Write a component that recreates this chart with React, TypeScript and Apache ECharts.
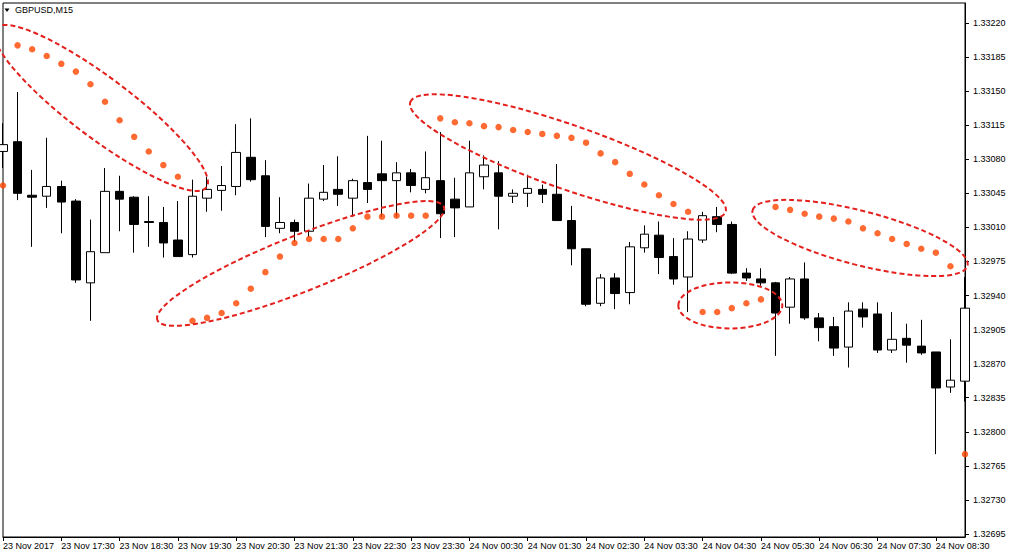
import React, { useEffect, useRef } from "react";
import * as echarts from "echarts";

const categories = [
  "23 Nov 16:30", "23 Nov 16:45", "23 Nov 17:00", "23 Nov 17:15", "23 Nov 17:30", "23 Nov 17:45",
  "23 Nov 18:00", "23 Nov 18:15", "23 Nov 18:30", "23 Nov 18:45", "23 Nov 19:00", "23 Nov 19:15",
  "23 Nov 19:30", "23 Nov 19:45", "23 Nov 20:00", "23 Nov 20:15", "23 Nov 20:30", "23 Nov 20:45",
  "23 Nov 21:00", "23 Nov 21:15", "23 Nov 21:30", "23 Nov 21:45", "23 Nov 22:00", "23 Nov 22:15",
  "23 Nov 22:30", "23 Nov 22:45", "23 Nov 23:00", "23 Nov 23:15", "23 Nov 23:30", "23 Nov 23:45",
  "24 Nov 00:00", "24 Nov 00:15", "24 Nov 00:30", "24 Nov 00:45", "24 Nov 01:00", "24 Nov 01:15",
  "24 Nov 01:30", "24 Nov 01:45", "24 Nov 02:00", "24 Nov 02:15", "24 Nov 02:30", "24 Nov 02:45",
  "24 Nov 03:00", "24 Nov 03:15", "24 Nov 03:30", "24 Nov 03:45", "24 Nov 04:00", "24 Nov 04:15",
  "24 Nov 04:30", "24 Nov 04:45", "24 Nov 05:00", "24 Nov 05:15", "24 Nov 05:30", "24 Nov 05:45",
  "24 Nov 06:00", "24 Nov 06:15", "24 Nov 06:30", "24 Nov 06:45", "24 Nov 07:00", "24 Nov 07:15",
  "24 Nov 07:30", "24 Nov 07:45", "24 Nov 08:00", "24 Nov 08:15", "24 Nov 08:30", "24 Nov 08:45",
  "24 Nov 09:00",
];

const firstTickLabel = "23 Nov 2017";

const opens = [
  1.33088, 1.33098, 1.33043, 1.33042, 1.33052, 1.33037, 1.32953, 1.32984, 1.33047, 1.33041,
  1.33016, 1.33015, 1.32997, 1.32982, 1.3304, 1.33048, 1.33052, 1.33082, 1.33063, 1.33009,
  1.33015, 1.33006, 1.33039, 1.33049, 1.3304, 1.33056, 1.33065, 1.33058, 1.33066, 1.33049,
  1.33058, 1.33039, 1.33031, 1.33062, 1.33066, 1.33042, 1.33045, 1.33049, 1.33044, 1.33017,
  1.32988, 1.32932, 1.32958, 1.32943, 1.32989, 1.33002, 1.3298, 1.32959, 1.32997, 1.33021,
  1.33013, 1.32963, 1.32957, 1.32953, 1.32928, 1.32957, 1.32917, 1.32908, 1.32887, 1.32926,
  1.32921, 1.32884, 1.32896, 1.32888, 1.32882, 1.32846, 1.32852,
];

const closes = [
  1.33095, 1.33045, 1.33041, 1.33052, 1.33036, 1.32956, 1.32985, 1.33047, 1.33039, 1.33013,
  1.33015, 1.32994, 1.3298, 1.33042, 1.33049, 1.33053, 1.33087, 1.33059, 1.33011, 1.33015,
  1.33006, 1.3304, 1.33046, 1.33044, 1.33058, 1.33049, 1.33058, 1.33066, 1.33053, 1.33061,
  1.33024, 1.3303, 1.33066, 1.33074, 1.33042, 1.33045, 1.3305, 1.33044, 1.33017, 1.32988,
  1.32931, 1.32958, 1.32942, 1.3299, 1.33003, 1.32979, 1.32957, 1.32998, 1.33022, 1.33013,
  1.32963, 1.32958, 1.32953, 1.32922, 1.32957, 1.32917, 1.32907, 1.32886, 1.32924, 1.32918,
  1.32884, 1.32895, 1.32889, 1.32881, 1.32845, 1.32853, 1.32927,
];

const highs = [
  1.33117, 1.33149, 1.33069, 1.33102, 1.33058, 1.33039, 1.33018, 1.33071, 1.33063, 1.33042,
  1.33042, 1.33031, 1.33037, 1.33059, 1.33062, 1.33073, 1.33116, 1.33122, 1.33079, 1.33041,
  1.33018, 1.33055, 1.33074, 1.33083, 1.3306, 1.33104, 1.33099, 1.33077, 1.3307, 1.33088,
  1.33108, 1.33061, 1.33099, 1.33084, 1.33078, 1.33049, 1.33064, 1.33054, 1.33075, 1.33032,
  1.32988, 1.32962, 1.32963, 1.32995, 1.33012, 1.33016, 1.32999, 1.33006, 1.33026, 1.33031,
  1.33016, 1.32968, 1.32968, 1.32954, 1.32959, 1.32974, 1.32922, 1.32918, 1.32933, 1.32933,
  1.32933, 1.32923, 1.32911, 1.32915, 1.32882, 1.32895, 1.32959,
];

const lows = [
  1.33071, 1.33038, 1.3299, 1.3303, 1.33004, 1.32953, 1.32914, 1.32984, 1.33006, 1.32984,
  1.3299, 1.32979, 1.3298, 1.32979, 1.33026, 1.33027, 1.33043, 1.33057, 1.33, 1.33004,
  1.32995, 1.33, 1.33037, 1.33032, 1.33021, 1.33035, 1.33021, 1.33021, 1.33046, 1.33045,
  1.32999, 1.33, 1.33031, 1.33049, 1.33008, 1.33035, 1.33031, 1.33035, 1.33017, 1.32971,
  1.32929, 1.32929, 1.32926, 1.32931, 1.32984, 1.32962, 1.32951, 1.32923, 1.32994, 1.33005,
  1.32962, 1.32955, 1.3295, 1.32878, 1.32911, 1.32915, 1.32893, 1.32878, 1.32866, 1.32907,
  1.32881, 1.32881, 1.32871, 1.32879, 1.32777, 1.3284, 1.32831,
];

const parabolicSar = [
  1.33053, 1.33197, 1.33193, 1.33186, 1.33178, 1.3317, 1.33157, 1.33139, 1.3312, 1.33103,
  1.33088, 1.33074, 1.33062, 1.32914, 1.32917, 1.32922, 1.32932, 1.32947, 1.32964, 1.3298,
  1.32994, 1.32998, 1.32998, 1.32998, 1.33009, 1.33021, 1.33021, 1.33022, 1.33022, 1.33022,
  1.33122, 1.33118, 1.33117, 1.33114, 1.33113, 1.3311, 1.33108, 1.33106, 1.33104, 1.33102,
  1.33097, 1.33086, 1.33077, 1.33065, 1.33054, 1.33043, 1.33034, 1.33026, 1.32923, 1.32923,
  1.32927, 1.32932, 1.32936, 1.33031, 1.33028, 1.33024, 1.33021, 1.33019, 1.33016, 1.33009,
  1.33004, 1.32998, 1.32993, 1.32988, 1.32984, 1.3297, 1.32777,
];

const priceTicks = [
  1.32695, 1.3273, 1.32765, 1.328, 1.32835, 1.3287, 1.32905, 1.3294,
  1.32975, 1.3301, 1.33045, 1.3308, 1.33115, 1.3315, 1.33185, 1.3322,
];

const Y_MIN = 1.326919;
const Y_MAX = 1.332405;

// hand-drawn annotation ellipses: centre (bar index, price), radii in px, tilt in degrees
const ellipseIdx = [6.72, 20.42, 38.76, 49.9, 58.8];
const ellipsePrice = [1.331327, 1.329729, 1.330823, 1.329298, 1.329991];
const ellipseRx = [132, 154, 167, 52, 111];
const ellipseRy = [30, 28, 32, 23, 27];
const ellipseTilt = [-37, 21.6, -19.2, 0, -14.5];

const FONT = "'Liberation Sans', Arial, sans-serif";

export default function App() {
  const ref = useRef<HTMLDivElement>(null);

  useEffect(() => {
    document.body.style.margin = "0";
    if (!ref.current) return;
    const chart = echarts.init(ref.current, null, { renderer: "svg" });

    const candleData = categories.map((_, i) => [opens[i], closes[i], lows[i], highs[i]]);

    chart.setOption({
      animation: false,
      backgroundColor: "#ffffff",
      grid: {
        left: 1,
        top: 3,
        right: 47,
        bottom: 19,
        show: true,
        borderColor: "#000",
        borderWidth: 1,
        backgroundColor: "transparent",
      },
      xAxis: {
        type: "category",
        data: categories,
        boundaryGap: false,
        axisLine: { show: true, lineStyle: { color: "#000", width: 1 } },
        axisTick: { show: true, interval: 3, length: 4, lineStyle: { color: "#000" } },
        axisLabel: {
          interval: 3,
          align: "left",
          margin: 4,
          color: "#000",
          fontSize: 9,
          fontFamily: FONT,
          formatter: (v: string, i: number) => (i === 0 ? firstTickLabel : v),
        },
        splitLine: { show: false },
      },
      yAxis: {
        type: "value",
        position: "right",
        min: Y_MIN,
        max: Y_MAX,
        axisLine: { show: true, lineStyle: { color: "#000", width: 1 } },
        axisTick: { show: true, length: 4, customValues: priceTicks, lineStyle: { color: "#000" } },
        axisLabel: {
          customValues: priceTicks,
          margin: 8,
          color: "#000",
          fontSize: 9,
          fontFamily: FONT,
          formatter: (v: number) => v.toFixed(5),
        },
        splitLine: { show: false },
      },
      series: [
        {
          type: "candlestick",
          data: candleData,
          barWidth: 9,
          itemStyle: {
            color: "#ffffff",
            color0: "#000000",
            borderColor: "#000000",
            borderColor0: "#000000",
            borderWidth: 1,
          },
        },
        {
          type: "scatter",
          data: parabolicSar,
          symbol: "circle",
          symbolSize: 6.5,
          itemStyle: { color: "#ff4500" },
          z: 3,
        },
      ],
    });

    const toPx = (idx: number, price: number) => {
      const i0 = Math.floor(idx);
      const i1 = Math.min(i0 + 1, categories.length - 1);
      const p0 = chart.convertToPixel({ gridIndex: 0 }, [i0, price]) as number[];
      const p1 = chart.convertToPixel({ gridIndex: 0 }, [i1, price]) as number[];
      const t = idx - i0;
      return [p0[0] + (p1[0] - p0[0]) * t, p0[1]];
    };

    const ellipseEls = ellipseIdx.map((idx, k) => {
      const [cx, cy] = toPx(idx, ellipsePrice[k]);
      return {
        type: "ellipse",
        x: cx,
        y: cy,
        rotation: (ellipseTilt[k] * Math.PI) / 180,
        shape: { cx: 0, cy: 0, rx: ellipseRx[k], ry: ellipseRy[k] },
        style: { fill: "none", stroke: "#e3201c", lineWidth: 2, lineDash: [5, 3] },
        z: 100,
        silent: true,
      };
    });

    chart.setOption({
      graphic: [
        {
          type: "polygon",
          shape: { points: [[4.5, 8.5], [9.5, 8.5], [7, 12]] },
          style: { fill: "#000" },
          z: 100,
        },
        {
          type: "text",
          x: 15,
          y: 10,
          style: {
            text: "GBPUSD,M15",
            fill: "#000",
            fontSize: 9,
            fontFamily: FONT,
            verticalAlign: "middle",
          },
          z: 100,
        },
        ...ellipseEls,
      ],
    });

    return () => chart.dispose();
  }, []);

  return <div ref={ref} style={{ width: 1012, height: 556 }} />;
}
